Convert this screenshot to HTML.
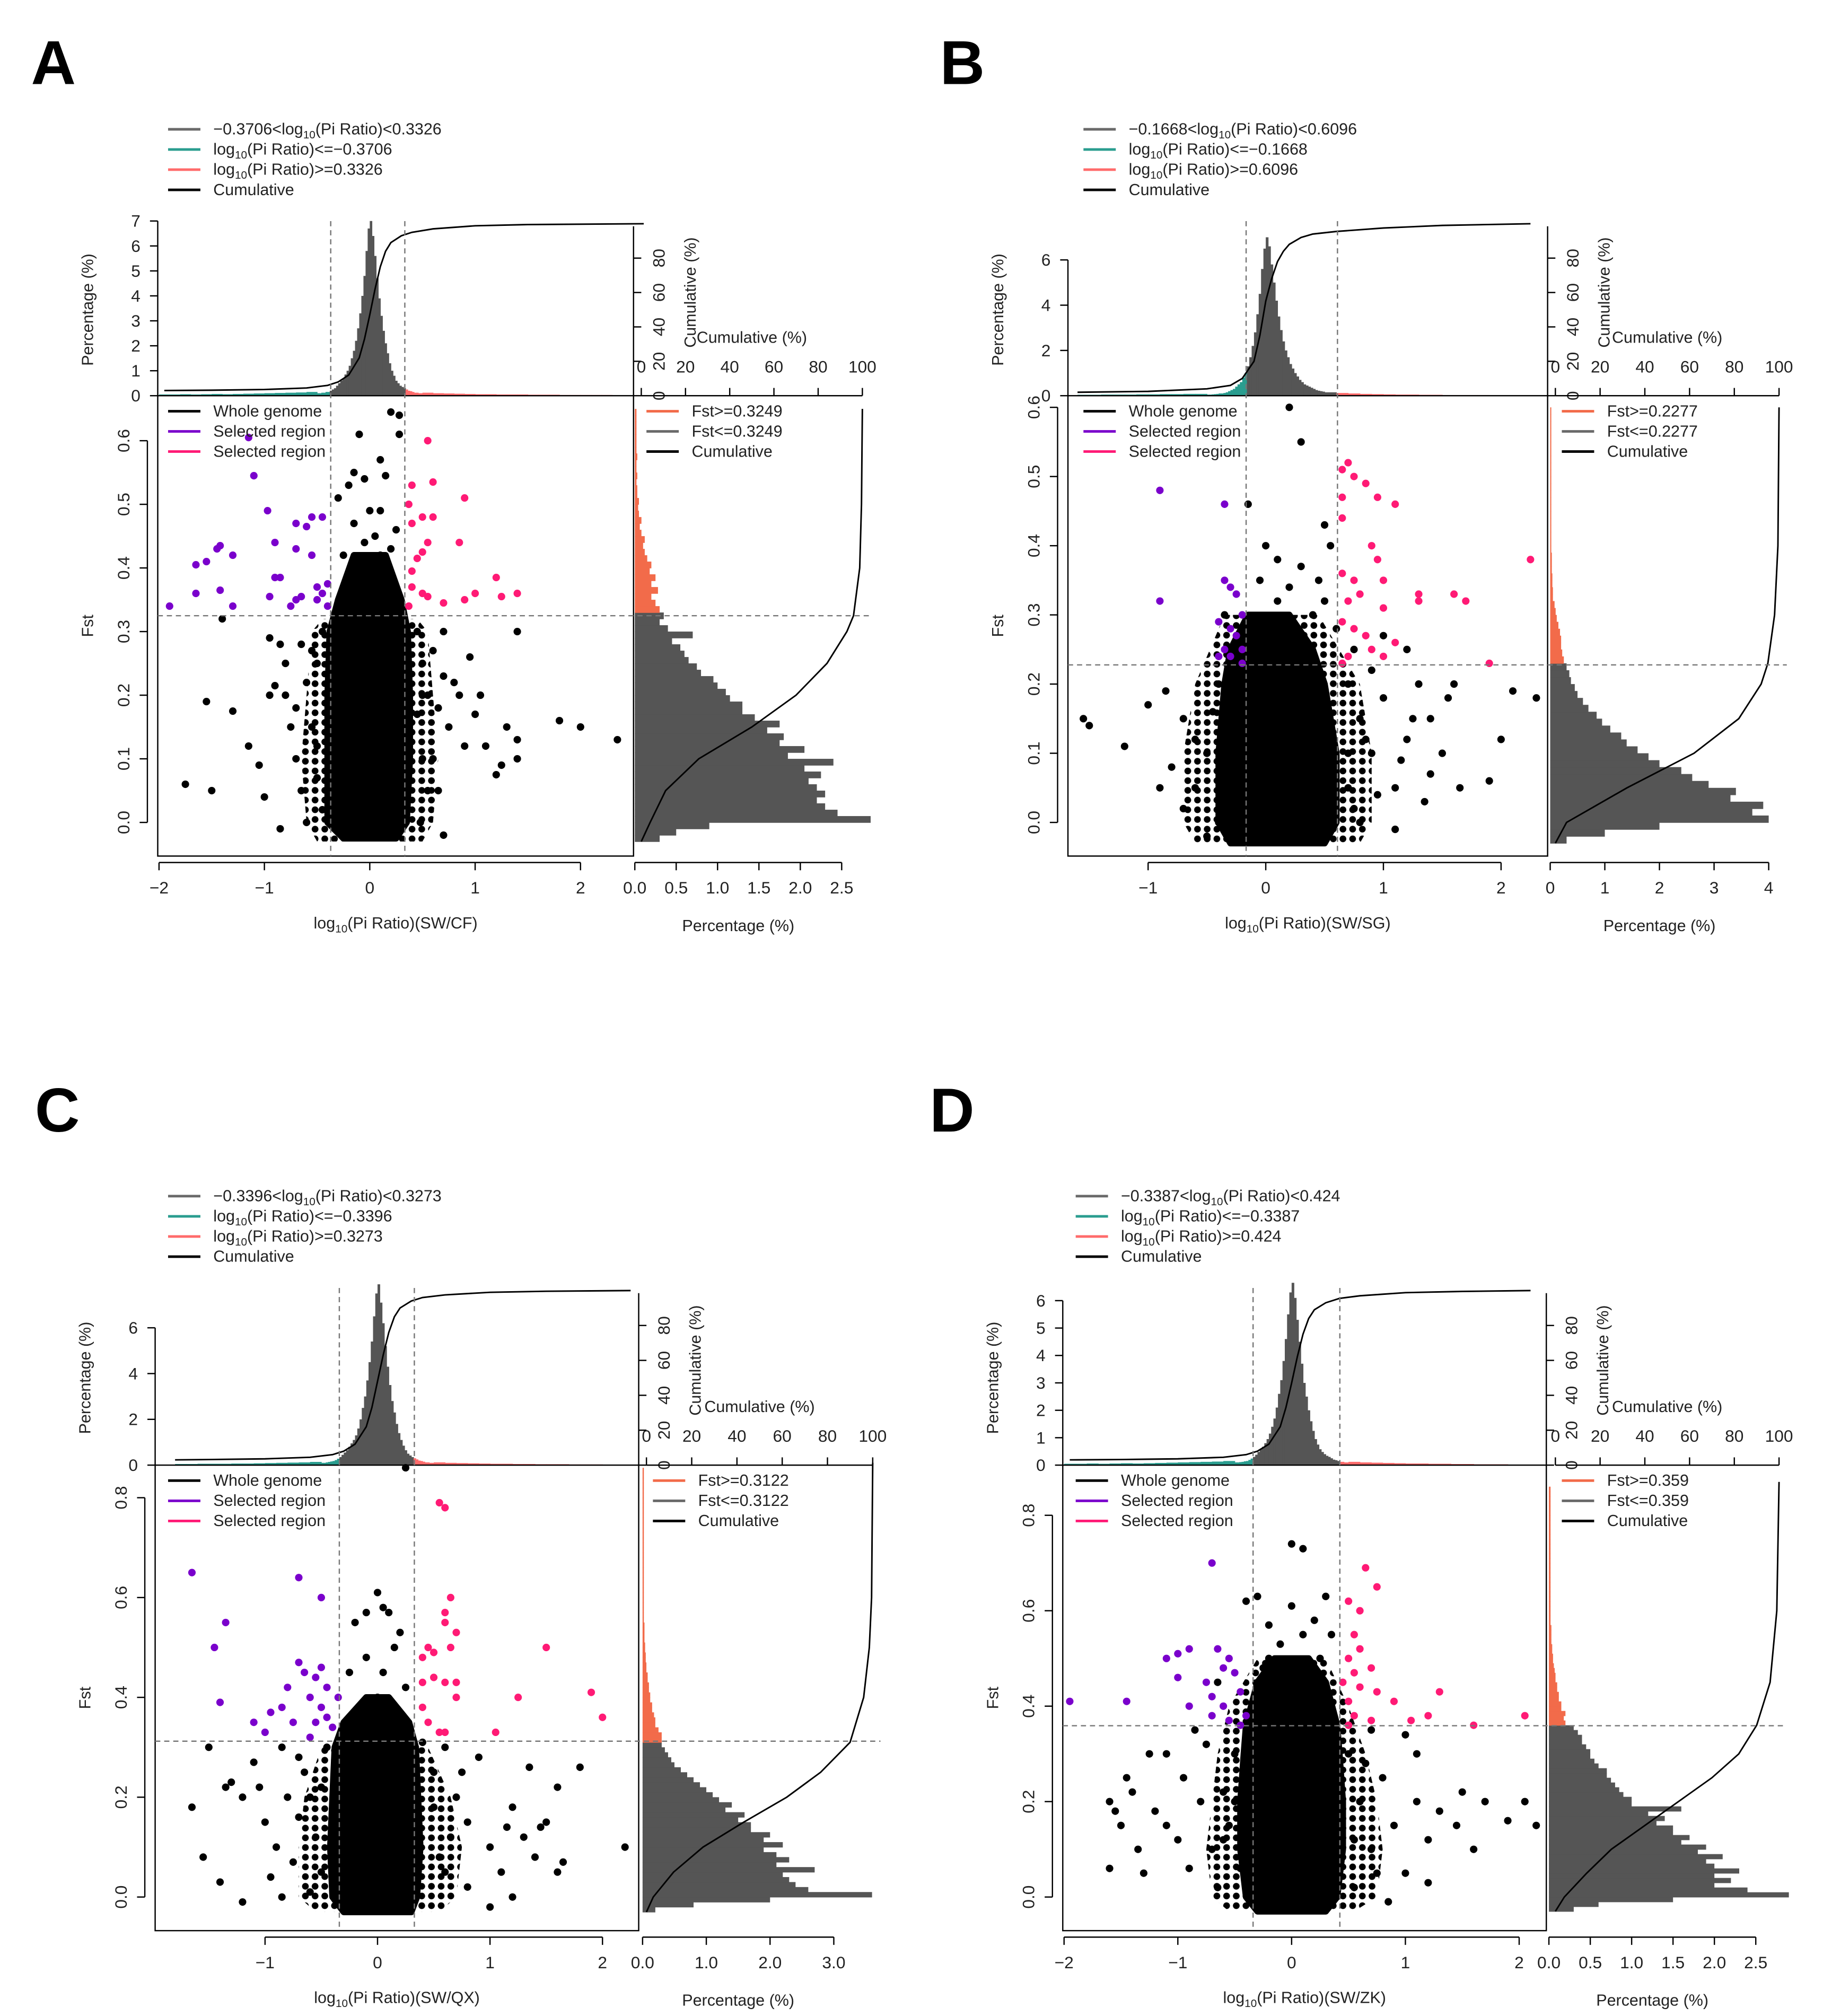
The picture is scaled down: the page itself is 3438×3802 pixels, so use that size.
<!DOCTYPE html>
<html><head><meta charset="utf-8">
<style>
html,body{margin:0;padding:0;background:#fff;}
svg{display:block;font-family:"Liberation Sans",Arial,sans-serif;}
</style></head>
<body>
<svg id="chart" xmlns="http://www.w3.org/2000/svg" width="3438" height="3802" viewBox="0 0 1410 1559" preserveAspectRatio="none">
<defs>
<pattern id="halo" width="7.5" height="7.5" patternUnits="userSpaceOnUse"><circle cx="3.7" cy="3.7" r="2.6" fill="#000"/></pattern>
</defs>
</svg>
<script>
// ===== Data: panel A (SW/CF) =====
const A_thr = [-0.3706, 0.3326, 0.3249];
const A_hist = [0.1,0.1,0.12,0.12,0.15,0.15,0.2,0.25,0.3,0.4, 0.5,0.6,0.7,0.85,1.0,1.2,1.5,1.8,2.2,2.7, 3.3,4.0,4.8,5.8,6.7,7.0,6.4,5.6,4.7,3.9, 3.2,2.6,2.1,1.7,1.3,1.0,0.8,0.6,0.5,0.4, 0.35,0.3,0.25,0.2,0.18,0.15,0.12,0.12,0.1,0.1];
const A_lt = [0.05,0.05,0.06,0.05,0.06,0.07,0.06,0.07,0.08,0.09,0.1,0.11,0.12,0.13,0.15];
const A_rt = [0.12,0.1,0.09,0.08,0.07,0.06,0.06,0.05,0.05,0.05,0.04,0.04,0.04,0.03,0.03,0.03,0.03,0.03,0.02,0.02,0.02];
const A_cumX = [-1.95,-1.5,-1,-0.6,-0.4,-0.3,-0.2,-0.1,-0.05,0,0.05,0.1,0.15,0.2,0.3,0.4,0.6,1,1.5,2.6];
const A_cumY = [3,3.2,3.6,4.5,6,8,12,22,33,47,62,75,84,89,93,95,97,98.8,99.5,100];
const A_rhist = [0.3,0.5,0.9,2.85,2.45,2.3,2.2,2.3,2.2,2.1,2.25,2.05,2.4,1.85,2.05,1.75,1.8,1.6,1.75,1.45,1.3,1.3,1.15,1.1,1.0,0.95,0.8,0.75,0.65,0.6,0.55,0.45,0.7,0.4,0.3,0.35,0.3,0.25,0.2,0.28,0.2,0.25,0.18,0.2,0.15,0.12,0.1,0.12,0.08,0.06,0.08,0.05,0.04,0.05,0.03,0.03,0.02,0.03,0.02,0.02,0.03,0.02,0.02,0.02,0.02,0.02,0.02,0.02];
const A_rcumF = [-0.03,0,0.05,0.1,0.15,0.2,0.25,0.3,0.325,0.4,0.5,0.65];
const A_rcumY = [0,4,11,26,50,70,84,93,96,98.8,99.6,100];
const A_coreF = [-0.025,0,0.1,0.2,0.3,0.35,0.42];
const A_coreL = [-0.25,-0.4,-0.4,-0.4,-0.38,-0.3,-0.15];
const A_coreR = [0.25,0.35,0.38,0.38,0.36,0.3,0.15];
const A_haloF = [-0.03,0,0.1,0.2,0.3,0.32];
const A_haloL = [-0.5,-0.6,-0.65,-0.6,-0.55,-0.45];
const A_haloR = [0.5,0.6,0.65,0.6,0.55,0.45];
const A_black = [[-1.75,0.06],[-1.5,0.05],[-1.55,0.19],[-1.3,0.175],[-1.15,0.12],[-1.05,0.09],[-1.0,0.04],[-0.95,0.2],[-0.9,0.215],[-0.95,0.29],[-0.85,0.28],[-0.8,0.25],[-0.8,0.2],[-0.75,0.15],[-0.7,0.1],[-0.65,0.05],[-0.6,0.0],[-0.6,0.22],[-0.55,0.15],[-0.5,0.07],[-0.55,0.27],[-0.45,0.3],[-0.85,-0.01],[-1.4,0.32],[-0.7,0.18],[-0.65,0.28],[-0.5,0.25],[-0.5,0.12],[-0.45,0.02],
[0.45,0.3],[0.5,0.25],[0.55,0.2],[0.6,0.1],[0.65,0.05],[0.7,-0.02],[0.75,0.15],[0.8,0.22],[0.85,0.2],[0.9,0.12],[1.0,0.17],[1.05,0.2],[1.1,0.12],[1.2,0.075],[1.25,0.09],[1.3,0.15],[1.4,0.13],[1.4,0.1],[1.4,0.3],[0.7,0.3],[0.6,0.27],[0.5,0.1],[0.55,0.05],[0.48,0.0],[0.95,0.26],[1.8,0.16],[2.0,0.15],[2.35,0.13],[0.65,0.18],[0.7,0.23],[0.45,0.17],[0.5,0.2],
[0.2,0.645],[0.28,0.64],[0.28,0.61],[-0.1,0.61],[0.1,0.57],[-0.15,0.55],[-0.05,0.54],[0.15,0.545],[-0.2,0.53],[-0.3,0.51],[0.1,0.49],[0.0,0.49],[0.25,0.46],[-0.15,0.47],[0.05,0.45],[0.2,0.43],[-0.25,0.42],[0.1,0.42],[-0.05,0.44]];
const A_purple = [[-1.9,0.34],[-1.65,0.36],[-1.65,0.405],[-1.55,0.41],[-1.45,0.43],[-1.42,0.435],[-1.3,0.42],[-1.42,0.365],[-1.3,0.34],[-1.15,0.605],[-1.1,0.545],[-0.97,0.49],[-0.9,0.44],[-0.9,0.385],[-0.85,0.385],[-0.95,0.355],[-0.75,0.34],[-0.7,0.35],[-0.65,0.355],[-0.7,0.47],[-0.7,0.43],[-0.55,0.48],[-0.6,0.465],[-0.45,0.48],[-0.55,0.42],[-0.5,0.37],[-0.45,0.36],[-0.4,0.375],[-0.4,0.34],[-0.5,0.35]];
const A_pink = [[0.55,0.6],[0.4,0.53],[0.6,0.535],[0.9,0.51],[0.37,0.5],[0.4,0.47],[0.5,0.48],[0.6,0.48],[0.85,0.44],[0.45,0.415],[0.5,0.425],[0.55,0.44],[0.4,0.395],[0.4,0.37],[0.5,0.36],[0.55,0.355],[0.7,0.345],[0.9,0.35],[1.0,0.36],[1.2,0.385],[1.25,0.355],[1.4,0.36],[0.37,0.34]];

// ===== Data: panel B (SW/SG) =====
const B_thr = [-0.1668, 0.6096, 0.2277];
const B_hist = [0.05,0.05,0.06,0.07,0.08,0.1,0.1,0.12,0.15,0.2, 0.25,0.3,0.4,0.5,0.6,0.8,1.0,1.3,1.7,2.2, 2.8,3.6,4.5,5.6,6.5,7.0,6.6,5.8,5.0,4.2, 3.5,2.9,2.4,2.0,1.7,1.4,1.2,1.0,0.85,0.7, 0.6,0.5,0.45,0.4,0.35,0.3,0.25,0.22,0.2,0.18];
const B_lt = [0.04,0.04,0.05,0.05,0.05,0.06,0.06,0.07,0.07,0.08,0.08];
const B_rt = [0.15,0.12,0.1,0.08,0.07,0.06,0.05,0.05,0.04,0.04,0.03,0.03,0.03,0.03,0.02,0.02,0.02,0.02];
const B_cumX = [-1.6,-1,-0.5,-0.3,-0.2,-0.1,-0.05,0,0.05,0.1,0.15,0.2,0.3,0.4,0.6,1,1.5,2.25];
const B_cumY = [2,2.5,4,6,10,20,35,55,68,78,84,88,92,94,95.5,97.5,99,100];
const B_rhist = [0.3,1.0,2.0,4.0,3.7,3.9,3.3,3.4,2.9,2.6,2.4,2.0,1.8,1.6,1.4,1.3,1.1,0.95,0.85,0.7,0.6,0.5,0.45,0.38,0.35,0.3,0.25,0.22,0.2,0.2,0.18,0.15,0.12,0.1,0.08,0.05,0.05,0.04,0.04,0.03,0.03,0.03,0.02,0.02,0.02,0.02,0.02,0.02,0.02,0.02,0.02,0.02,0.02,0.02,0.02,0.02,0.02,0.02,0.02,0.02,0.02,0.02,0.02];
const B_rcumF = [-0.03,0,0.05,0.1,0.15,0.2,0.23,0.3,0.4,0.6];
const B_rcumY = [0,5,32,62,82,92,95,98,99.5,100];
const B_coreF = [-0.03,0,0.1,0.2,0.25,0.3];
const B_coreL = [-0.3,-0.4,-0.4,-0.35,-0.3,-0.15];
const B_coreR = [0.5,0.6,0.6,0.5,0.4,0.2];
const B_haloF = [-0.03,0,0.1,0.2,0.3];
const B_haloL = [-0.6,-0.7,-0.7,-0.6,-0.35];
const B_haloR = [0.8,0.9,0.9,0.8,0.45];
const B_black = [[0.2,0.6],[0.3,0.55],[-0.15,0.46],[0.5,0.43],[0.55,0.4],[-0.35,0.3],[-1.55,0.15],[-1.5,0.14],[-1.2,0.11],[-1.0,0.17],[-0.85,0.19],[-0.7,0.15],[-0.6,0.05],[-0.5,0.1],[-0.4,0.2],[-0.4,0.0],[-0.5,-0.02],[-0.8,0.08],[-0.9,0.05],[-0.3,0.25],[-0.6,0.12],[-0.45,0.16],[-0.7,0.02],
[0.7,0.2],[0.8,0.15],[0.9,0.1],[1.0,0.18],[1.1,0.05],[1.2,0.12],[1.3,0.2],[1.35,0.03],[1.4,0.15],[1.5,0.1],[1.55,0.18],[1.6,0.2],[1.65,0.05],[1.9,0.06],[2.0,0.12],[2.1,0.19],[2.3,0.18],[1.2,0.25],[1.0,0.27],[0.9,0.22],[0.8,0.0],[1.1,-0.01],[0.7,0.05],[0.75,0.25],[0.6,0.28],[0.5,0.32],[0.45,0.35],[1.25,0.15],[1.4,0.07],[0.85,0.12],[1.15,0.09],[0.7,0.1],[0.75,0.02],[0.95,0.04],
[0.0,0.4],[0.1,0.38],[0.3,0.37],[-0.05,0.35],[0.2,0.34],[0.4,0.3],[0.1,0.32]];
const B_purple = [[-0.9,0.48],[-0.9,0.32],[-0.35,0.46],[-0.35,0.35],[-0.3,0.34],[-0.25,0.33],[-0.2,0.3],[-0.3,0.28],[-0.25,0.27],[-0.4,0.29],[-0.35,0.25],[-0.2,0.25],[-0.3,0.24],[-0.2,0.23],[-0.4,0.24]];
const B_pink = [[0.65,0.51],[0.7,0.52],[0.75,0.5],[0.85,0.49],[0.95,0.47],[1.1,0.46],[0.65,0.47],[0.65,0.44],[0.9,0.4],[0.95,0.38],[1.0,0.35],[0.65,0.36],[0.75,0.35],[0.8,0.33],[0.7,0.32],[1.0,0.31],[1.3,0.33],[1.3,0.32],[1.6,0.33],[1.7,0.32],[2.25,0.38],[1.9,0.23],[0.65,0.29],[0.75,0.28],[0.85,0.27],[0.9,0.25],[0.7,0.24],[1.0,0.24],[0.65,0.23],[1.1,0.26]];

// ===== Data: panel C (SW/QX) =====
const C_thr = [-0.3396, 0.3273, 0.3122];
const C_hist = [0.1,0.1,0.12,0.14,0.16,0.18,0.22,0.28,0.35,0.45, 0.55,0.65,0.8,0.95,1.1,1.3,1.6,2.0,2.5,3.0, 3.7,4.5,5.4,6.5,7.5,7.9,7.1,6.2,5.2,4.3, 3.5,2.8,2.3,1.8,1.4,1.1,0.85,0.65,0.5,0.42, 0.35,0.3,0.25,0.2,0.18,0.15,0.12,0.12,0.1,0.1];
const C_lt = [0.05,0.05,0.06,0.06,0.06,0.07,0.07,0.08,0.09,0.1,0.11,0.12,0.14];
const C_rt = [0.12,0.1,0.09,0.08,0.07,0.06,0.06,0.05,0.05,0.04,0.04,0.04,0.03,0.03,0.03,0.02,0.02,0.02];
const C_cumX = [-1.8,-1.5,-1,-0.6,-0.4,-0.3,-0.2,-0.1,-0.05,0,0.05,0.1,0.15,0.2,0.3,0.4,0.6,1,1.5,2.25];
const C_cumY = [3,3.2,3.6,4.5,6,8,12,22,33,48,63,76,85,90,94,96,97.5,99,99.6,100];
const C_rhist = [0.2,0.8,2.0,3.6,2.6,2.4,2.3,2.2,2.7,2.1,2.3,2.1,1.9,2.2,1.9,2.0,1.7,1.7,1.5,1.6,1.3,1.4,1.2,1.1,1.0,0.9,0.8,0.7,0.6,0.5,0.45,0.4,0.35,0.3,0.3,0.3,0.25,0.2,0.2,0.18,0.15,0.15,0.12,0.12,0.1,0.1,0.08,0.08,0.06,0.06,0.05,0.05,0.04,0.04,0.03,0.03,0.03,0.03,0.02,0.02,0.02,0.02,0.02,0.02,0.02,0.02,0.02,0.02,0.02,0.02,0.02,0.02,0.02,0.02,0.02,0.02,0.02,0.02,0.02,0.02,0.02,0.02,0.02,0.02,0.02,0.02,0.02,0.02,0.02];
const C_rcumF = [-0.03,0,0.05,0.1,0.15,0.2,0.25,0.31,0.4,0.5,0.6,0.87];
const C_rcumY = [0,3,12,25,43,62,77,90,96,98.5,99.5,100];
const C_coreF = [-0.03,0,0.1,0.2,0.3,0.35,0.4];
const C_coreL = [-0.3,-0.4,-0.42,-0.4,-0.38,-0.3,-0.1];
const C_coreR = [0.3,0.35,0.38,0.36,0.34,0.28,0.1];
const C_haloF = [-0.03,0,0.1,0.2,0.3];
const C_haloL = [-0.55,-0.7,-0.7,-0.65,-0.5];
const C_haloR = [0.55,0.7,0.75,0.65,0.45];
const C_black = [[-1.65,0.18],[-1.5,0.3],[-1.55,0.08],[-1.4,0.03],[-1.35,0.22],[-1.3,0.23],[-1.2,0.2],[-1.1,0.27],[-1.0,0.15],[-0.95,0.04],[-0.9,0.1],[-0.85,0.3],[-0.8,0.2],[-0.75,0.07],[-0.7,0.16],[-0.65,0.25],[-0.6,0.01],[-0.55,0.12],[-0.5,0.22],[-0.45,0.3],[-1.2,-0.01],[-0.85,0.0],[-0.6,0.2],[-0.5,0.05],[-0.7,0.28],[-1.05,0.22],
[0.4,0.31],[0.5,0.25],[0.6,0.3],[0.7,0.2],[0.8,0.15],[0.9,0.28],[1.0,0.1],[1.1,0.05],[1.2,0.18],[1.3,0.12],[1.4,0.08],[1.5,0.15],[1.6,0.22],[1.8,0.26],[1.6,0.05],[2.2,0.1],[1.65,0.07],[1.2,0.0],[1.0,-0.02],[0.8,0.02],[0.55,0.08],[1.15,0.14],[0.65,0.12],[1.35,0.26],[1.45,0.14],[0.5,0.18],[0.6,0.05],[0.75,0.25],
[0.25,0.86],[0.0,0.61],[0.05,0.58],[-0.1,0.57],[0.1,0.57],[-0.2,0.55],[0.2,0.53],[0.15,0.5],[-0.1,0.48],[0.05,0.45],[-0.25,0.45],[0.25,0.42],[0.0,0.4],[-0.15,0.38],[0.2,0.36]];
const C_purple = [[-1.65,0.65],[-1.35,0.55],[-1.45,0.5],[-1.4,0.39],[-0.7,0.64],[-0.5,0.6],[-1.1,0.35],[-1.0,0.33],[-0.95,0.37],[-0.85,0.38],[-0.8,0.42],[-0.75,0.35],[-0.7,0.47],[-0.65,0.45],[-0.6,0.4],[-0.55,0.44],[-0.5,0.46],[-0.45,0.42],[-0.5,0.38],[-0.45,0.36],[-0.4,0.34],[-0.55,0.35],[-0.6,0.32],[-0.35,0.4]];
const C_pink = [[0.55,0.79],[0.6,0.78],[0.65,0.6],[0.6,0.57],[0.6,0.55],[0.7,0.53],[0.65,0.5],[0.5,0.49],[0.45,0.5],[0.4,0.48],[1.5,0.5],[0.4,0.43],[0.5,0.44],[0.6,0.43],[0.7,0.43],[0.7,0.4],[1.25,0.4],[1.9,0.41],[2.0,0.36],[0.4,0.38],[0.55,0.33],[0.6,0.33],[1.05,0.33],[0.45,0.35]];

// ===== Data: panel D (SW/ZK) =====
const D_thr = [-0.3387, 0.424, 0.359];
const D_hist = [0.1,0.1,0.11,0.12,0.14,0.15,0.19,0.24,0.3,0.38, 0.48,0.57,0.67,0.8,0.95,1.15,1.4,1.7,2.1,2.6, 3.1,3.8,4.6,5.5,6.3,6.65,6.1,5.3,4.5,3.7, 3.0,2.5,2.0,1.6,1.25,0.95,0.75,0.58,0.48,0.4, 0.34,0.3,0.25,0.2,0.18,0.15,0.12,0.12,0.1,0.1];
const D_lt = [0.05,0.05,0.06,0.05,0.06,0.07,0.06,0.07,0.08,0.09,0.1,0.11,0.12,0.13,0.15];
const D_rt = [0.12,0.1,0.09,0.08,0.07,0.06,0.06,0.05,0.05,0.04,0.04,0.03,0.03,0.03,0.02,0.02];
const D_cumX = [-1.95,-1.5,-1,-0.6,-0.4,-0.3,-0.2,-0.1,-0.05,0,0.05,0.1,0.15,0.2,0.3,0.42,0.6,1,1.5,2.1];
const D_cumY = [3,3.2,3.6,4.5,6,8,12,22,33,47,62,75,84,89,93,95.5,97,98.8,99.5,100];
const D_rhist = [0.3,0.6,1.5,2.9,2.4,2.0,2.2,2.0,2.3,2.0,1.9,2.1,1.8,1.9,1.6,1.7,1.5,1.5,1.3,1.4,1.2,1.6,1.0,1.0,0.9,0.85,0.8,0.75,0.7,0.7,0.6,0.55,0.5,0.5,0.45,0.4,0.4,0.35,0.3,0.2,0.18,0.2,0.15,0.15,0.12,0.12,0.1,0.1,0.08,0.08,0.07,0.06,0.05,0.05,0.04,0.04,0.03,0.03,0.03,0.03,0.02,0.02,0.02,0.02,0.02,0.02,0.02,0.02,0.02,0.02,0.02,0.02,0.02,0.02,0.02,0.02,0.02,0.02,0.02,0.02,0.02,0.02,0.02,0.02,0.02,0.02,0.02,0.02,0.02];
const D_rcumF = [-0.03,0,0.05,0.1,0.15,0.2,0.25,0.3,0.36,0.45,0.6,0.87];
const D_rcumY = [0,4,14,25,40,55,70,82,90,96,99,100];
const D_coreF = [-0.03,0,0.1,0.2,0.3,0.36,0.45,0.5];
const D_coreL = [-0.3,-0.4,-0.45,-0.45,-0.42,-0.4,-0.3,-0.15];
const D_coreR = [0.3,0.4,0.45,0.45,0.42,0.4,0.3,0.15];
const D_haloF = [-0.03,0,0.1,0.2,0.3,0.4,0.5];
const D_haloL = [-0.55,-0.7,-0.75,-0.7,-0.65,-0.55,-0.3];
const D_haloR = [0.55,0.75,0.8,0.75,0.65,0.5,0.3];
const D_black = [[-1.6,0.2],[-1.55,0.18],[-1.5,0.15],[-1.45,0.25],[-1.4,0.22],[-1.35,0.1],[-1.3,0.05],[-1.2,0.18],[-1.1,0.3],[-1.0,0.12],[-0.95,0.25],[-0.9,0.06],[-0.8,0.2],[-0.75,0.32],[-0.7,0.1],[-0.65,0.02],[-0.6,0.22],[-0.55,0.15],[-0.5,0.3],[-0.45,0.06],[-1.6,0.06],[-1.25,0.3],[-0.85,0.35],[-0.65,0.45],[-0.6,0.12],[-0.5,0.2],[-1.1,0.15],
[0.5,0.3],[0.6,0.2],[0.7,0.1],[0.8,0.25],[0.9,0.15],[1.0,0.05],[1.1,0.2],[1.2,0.12],[1.1,0.3],[1.3,0.18],[1.45,0.15],[1.5,0.22],[1.7,0.2],[1.6,0.1],[1.9,0.16],[2.05,0.2],[2.15,0.15],[1.0,0.34],[0.7,0.35],[0.55,0.02],[0.85,-0.01],[1.2,0.03],[0.55,0.12],[0.65,0.28],[0.75,0.05],
[0.0,0.74],[0.1,0.73],[-0.3,0.63],[-0.4,0.62],[0.0,0.61],[0.3,0.63],[-0.2,0.57],[0.2,0.58],[0.1,0.55],[-0.1,0.53],[0.25,0.5],[-0.25,0.48],[0.15,0.45],[-0.05,0.46],[0.3,0.42],[-0.3,0.4],[0.1,0.4],[-0.2,0.5],[0.35,0.55]];
const D_purple = [[-1.95,0.41],[-1.45,0.41],[-1.1,0.5],[-1.0,0.51],[-0.9,0.52],[-0.7,0.7],[-0.65,0.52],[-0.55,0.5],[-1.0,0.46],[-0.9,0.4],[-0.75,0.45],[-0.7,0.42],[-0.6,0.48],[-0.5,0.47],[-0.6,0.4],[-0.45,0.43],[-0.4,0.38],[-0.55,0.37],[-0.45,0.36],[-0.7,0.38]];
const D_pink = [[0.65,0.69],[0.75,0.65],[0.5,0.62],[0.6,0.6],[0.55,0.55],[0.6,0.52],[0.5,0.5],[0.55,0.47],[0.7,0.48],[0.45,0.45],[0.6,0.44],[0.75,0.43],[0.5,0.41],[0.9,0.41],[1.3,0.43],[0.55,0.38],[0.7,0.37],[1.05,0.37],[1.2,0.38],[1.6,0.36],[2.05,0.38],[0.5,0.36]];

// Tick labels
const A_xticks=[-2,-1,0,1,2], A_fticks=[0,0.1,0.2,0.3,0.4,0.5,0.6], A_tticks=[0,1,2,3,4,5,6,7], A_rticks=[0,0.5,1,1.5,2,2.5];
const B_xticks=[-1,0,1,2], B_fticks=[0,0.1,0.2,0.3,0.4,0.5,0.6], B_tticks=[0,2,4,6], B_rticks=[0,1,2,3,4];
const C_xticks=[-1,0,1,2], C_fticks=[0,0.2,0.4,0.6,0.8], C_tticks=[0,2,4,6], C_rticks=[0,1,2,3];
const D_xticks=[-2,-1,0,1,2], D_fticks=[0,0.2,0.4,0.6,0.8], D_tticks=[0,1,2,3,4,5,6], D_rticks=[0,0.5,1,1.5,2,2.5];
const cumTicks=[0,20,40,60,80,100];

const NS="http://www.w3.org/2000/svg";
const svg=document.getElementById('chart');
function mk(tag, attrs, name, parent){
  const e=document.createElementNS(NS,tag);
  for(const k in attrs) e.setAttribute(k, attrs[k]);
  
  
  (parent||svg).appendChild(e);
  return e;
}
function txt(x,y,s,name,parent,extra){
  const a=Object.assign({x:x,y:y,'font-size':12.5,fill:'#222'},extra||{});
  const t=mk('text',a,name,parent); t.textContent=s; return t;
}
function esc(s){ return s.replace(/&/g,'&amp;').replace(/</g,'&lt;').replace(/>/g,'&gt;'); }
function logTxt(x,y,pre,post,name,parent,extra){
  const t=mk('text',Object.assign({x:x,y:y,'font-size':12.5,fill:'#222'},extra||{}),name,parent);
  t.innerHTML=esc(pre)+'log<tspan font-size="8.5" dy="3">10</tspan><tspan dy="-3">'+esc(post)+'</tspan>';
  return t;
}
function fmt(v,d){ return d==null? String(v): v.toFixed(d); }
function bandPts(F,L,R,xs,fy){
  return F.map((f,i)=>xs(L[i])+','+fy(f)).concat(F.slice().reverse().map((f,j)=>{const i=F.length-1-j;return xs(R[i])+','+fy(f);})).join(' ');
}

function draw(c, d){
  const g=mk('g',{},'panel-'+c.letter.toLowerCase());
  const xs=v=>c.x0+c.xu*v, fy=f=>c.y0-c.fu*f, ty=p=>c.ty0-c.tu*p, rx=p=>c.rx0+c.ru*p;
  const cy=v=>c.ty0-(c.ty0-c.cumTop)*v/100, rcx=v=>c.cx0+(c.cx1-c.cx0)*v/100;
  const [lo,hi,fT]=d.thr;
  txt(c.lx,c.ly,c.letter,'panel-letter',g,{'font-size':48,'font-weight':'bold',fill:'#000'});
  const tl=[['#6a6a6a','range'],['#2a9d8f','low'],['#ff6b6b','high'],['#000','cumulative']];
  tl.forEach((L,i)=>{
    const y=c.legTop+i*15.6;
    mk('line',{x1:c.legX,x2:c.legX+25,y1:y-4,y2:y-4,stroke:L[0],'stroke-width':2},'legend-line-'+L[1],g);
  });
  logTxt(c.legX+35,c.legTop,'−'+Math.abs(lo)+'<','(Pi Ratio)<'+hi,'legend-label-range',g);
  logTxt(c.legX+35,c.legTop+15.6,'','(Pi Ratio)<=−'+Math.abs(lo),'legend-label-low',g);
  logTxt(c.legX+35,c.legTop+31.2,'','(Pi Ratio)>='+hi,'legend-label-high',g);
  txt(c.legX+35,c.legTop+46.8,'Cumulative','legend-label-cumulative',g);

  const bw=0.02, hg=mk('g',{},'top-histogram',g);
  const col=x=> x<lo?'#2a9d8f':(x>hi?'#ff6b6b':'#555');
  d.hist.forEach((h,i)=>{ const x=-0.5+bw*i;
    mk('rect',{x:xs(x),y:ty(h),width:xs(bw)-xs(0)+0.3,height:ty(0)-ty(h),fill:col(x+bw/2)},'top-hist-bar',hg);});
  const lts=-0.5-0.1*d.lt.length;
  d.lt.forEach((h,i)=>{ const x=lts+0.1*i;
    mk('rect',{x:xs(x),y:ty(h),width:xs(0.1)-xs(0)+0.3,height:ty(0)-ty(h),fill:col(x+0.05)},'top-hist-tail-bar',hg);});
  d.rt.forEach((h,i)=>{ const x=0.5+0.1*i;
    mk('rect',{x:xs(x),y:ty(h),width:xs(0.1)-xs(0)+0.3,height:ty(0)-ty(h),fill:col(x+0.05)},'top-hist-tail-bar',hg);});
  mk('polyline',{points:d.cumX.map((x,i)=>xs(x)+','+cy(d.cumY[i])).join(' '),fill:'none',stroke:'#000','stroke-width':1.2},'top-cumulative-line',g);
  const tmax=c.tticks[c.tticks.length-1];
  mk('line',{x1:c.l,x2:c.l,y1:ty(0),y2:ty(tmax),stroke:'#000'},'top-y-axis',g);
  c.tticks.forEach(t=>{ mk('line',{x1:c.l-6,x2:c.l,y1:ty(t),y2:ty(t),stroke:'#000'},'top-y-tick',g);
    txt(c.l-17,ty(t)+4.5,String(t),'top-y-tick-label',g,{'text-anchor':'middle','font-size':13});});
  txt(0,0,'Percentage (%)','top-y-axis-title',g,{'text-anchor':'middle',transform:`translate(${c.l-50},${(ty(0)+c.cumTop)/2}) rotate(-90)`});
  mk('line',{x1:c.r,x2:c.r,y1:cy(0),y2:c.cumTop+2,stroke:'#000'},'cumulative-y-axis',g);
  [0,20,40,60,80].forEach(t=>{ mk('line',{x1:c.r,x2:c.r+6,y1:cy(t),y2:cy(t),stroke:'#000'},'cumulative-y-tick',g);
    txt(0,0,String(t),'cumulative-y-tick-label',g,{'text-anchor':'middle','font-size':13,transform:`translate(${c.r+24},${cy(t)}) rotate(-90)`});});
  txt(0,0,'Cumulative (%)','cumulative-y-axis-title',g,{'text-anchor':'middle',transform:`translate(${c.r+48},${cy(60)}) rotate(-90)`});
  mk('line',{x1:c.cx0,x2:c.cx1,y1:c.ty0,y2:c.ty0,stroke:'#000'},'cumulative-x-axis',g);
  cumTicks.forEach(t=>{ mk('line',{x1:rcx(t),x2:rcx(t),y1:c.ty0,y2:c.ty0-6,stroke:'#000'},'cumulative-x-tick',g);
    txt(rcx(t),c.ty0-18,String(t),'cumulative-x-tick-label',g,{'text-anchor':'middle','font-size':13});});
  txt((c.cx0+c.cx1)/2,c.ty0-41,'Cumulative (%)','cumulative-x-axis-title',g,{'text-anchor':'middle'});

  const sg=mk('g',{},'scatter-plot',g);
  mk('polygon',{points:bandPts(d.haloF,d.haloL,d.haloR,xs,fy),fill:'url(#halo)',stroke:'none'},'halo-points',sg);
  mk('polygon',{points:bandPts(d.coreF,d.coreL,d.coreR,xs,fy),fill:'#000',stroke:'#000','stroke-width':5,'stroke-linejoin':'round'},'dense-core-points',sg);
  d.black.forEach(p=>{ mk('circle',{cx:xs(p[0]),cy:fy(p[1]),r:2.9,fill:'#000'},'point-whole-genome',sg);});
  d.purple.forEach(p=>{ mk('circle',{cx:xs(p[0]),cy:fy(p[1]),r:2.9,fill:'#7a00cc'},'point-selected-low',sg);});
  d.pink.forEach(p=>{ mk('circle',{cx:xs(p[0]),cy:fy(p[1]),r:2.9,fill:'#ff1a75'},'point-selected-high',sg);});
  mk('rect',{x:c.l,y:c.t,width:c.r-c.l,height:c.b-c.t,fill:'none',stroke:'#000'},'scatter-frame',g);
  const il=[['#000','Whole genome','whole-genome'],['#7a00cc','Selected region','selected-low'],['#ff1a75','Selected region','selected-high']];
  il.forEach((L,i)=>{ const y=c.t+16+i*15.6;
    mk('line',{x1:c.legX,x2:c.legX+25,y1:y-4,y2:y-4,stroke:L[0],'stroke-width':2},'legend-line-'+L[2],g);
    txt(c.legX+35,y,L[1],'legend-label-'+L[2],g);});
  const ax=c.b+5;
  mk('line',{x1:xs(c.xticks[0]),x2:xs(c.xticks[c.xticks.length-1]),y1:ax,y2:ax,stroke:'#000'},'x-axis',g);
  c.xticks.forEach(t=>{ mk('line',{x1:xs(t),x2:xs(t),y1:ax,y2:ax+6,stroke:'#000'},'x-tick',g);
    txt(xs(t),ax+24,t<0?'−'+Math.abs(t):String(t),'x-tick-label',g,{'text-anchor':'middle','font-size':13});});
  logTxt((c.l+c.r)/2,c.b+56,'','(Pi Ratio)(SW/'+c.xlab+')','x-axis-title',g,{'text-anchor':'middle'});
  const fmax=c.fticks[c.fticks.length-1];
  mk('line',{x1:c.l-8,x2:c.l-8,y1:fy(0),y2:fy(fmax),stroke:'#000'},'y-axis',g);
  c.fticks.forEach(t=>{ mk('line',{x1:c.l-14,x2:c.l-8,y1:fy(t),y2:fy(t),stroke:'#000'},'y-tick',g);
    txt(0,0,t.toFixed(1),'y-tick-label',g,{'text-anchor':'middle','font-size':13,transform:`translate(${c.l-22},${fy(t)}) rotate(-90)`});});
  txt(0,0,'Fst','y-axis-title',g,{'text-anchor':'middle',transform:`translate(${c.l-50},${(c.t+c.b)/2}) rotate(-90)`});

  const rg=mk('g',{},'right-histogram',g);
  d.rhist.forEach((v,i)=>{ const f=-0.03+0.01*i;
    mk('rect',{x:rx(0),y:fy(f+0.01),width:rx(v)-rx(0),height:fy(f)-fy(f+0.01)+0.3,fill:(f>=fT-0.004)?'#f26b4a':'#555'},'right-hist-bar',rg);});
  mk('polyline',{points:d.rcumF.map((f,i)=>rcx(d.rcumY[i])+','+fy(f)).join(' '),fill:'none',stroke:'#000','stroke-width':1.2},'right-cumulative-line',g);
  const rmax=c.rticks[c.rticks.length-1];
  mk('line',{x1:rx(0),x2:rx(rmax),y1:ax,y2:ax,stroke:'#000'},'right-x-axis',g);
  c.rticks.forEach(t=>{ mk('line',{x1:rx(t),x2:rx(t),y1:ax,y2:ax+6,stroke:'#000'},'right-x-tick',g);
    txt(rx(t),ax+24,fmt(t,c.rdec),'right-x-tick-label',g,{'text-anchor':'middle','font-size':13});});
  txt((rx(0)+rx(rmax))/2,c.b+58,'Percentage (%)','right-x-axis-title',g,{'text-anchor':'middle'});
  const rl=[['#f26b4a','Fst>='+fT,'fst-high'],['#6a6a6a','Fst<='+fT,'fst-low'],['#000','Cumulative','cumulative']];
  rl.forEach((L,i)=>{ const y=c.t+16+i*15.6;
    mk('line',{x1:c.rlegX,x2:c.rlegX+25,y1:y-4,y2:y-4,stroke:L[0],'stroke-width':2},'right-legend-line-'+L[2],g);
    txt(c.rlegX+35,y,L[1],'right-legend-label-'+L[2],g);});

  [lo,hi].forEach(v=>{ mk('line',{x1:xs(v),x2:xs(v),y1:c.cumTop-2,y2:c.b,stroke:'#777','stroke-dasharray':'4,3'},'threshold-line-pi',g);});
  mk('line',{x1:c.l,x2:c.cx1+6,y1:fy(fT),y2:fy(fT),stroke:'#777','stroke-dasharray':'4,3'},'threshold-line-fst',g);
}

const cfgA={letter:'A',lx:24,ly:65,l:122,r:490,t:306,b:662,x0:286,xu:81.5,y0:636,fu:492,ty0:306,tu:19.3,cumTop:173,rx0:491,ru:64,cx0:496,cx1:667,xticks:A_xticks,fticks:A_fticks,tticks:A_tticks,rticks:A_rticks,rdec:1,xlab:'CF',legX:130,legTop:104,rlegX:500};
const cfgB={letter:'B',lx:727,ly:65,l:826,r:1197,t:306,b:662,x0:979,xu:91,y0:636,fu:535,ty0:306,tu:17.5,cumTop:173,rx0:1199,ru:42.25,cx0:1203,cx1:1376,xticks:B_xticks,fticks:B_fticks,tticks:B_tticks,rticks:B_rticks,rdec:0,xlab:'SG',legX:838,legTop:104,rlegX:1208};
const cfgC={letter:'C',lx:27,ly:875,l:120,r:494,t:1133,b:1493,x0:292,xu:87,y0:1467,fu:386,ty0:1133,tu:17.7,cumTop:998,rx0:497,ru:49.3,cx0:500,cx1:675,xticks:C_xticks,fticks:C_fticks,tticks:C_tticks,rticks:C_rticks,rdec:1,xlab:'QX',legX:130,legTop:929,rlegX:505};
const cfgD={letter:'D',lx:719,ly:875,l:822,r:1196,t:1133,b:1493,x0:999,xu:88,y0:1467,fu:369,ty0:1133,tu:21.2,cumTop:998,rx0:1198,ru:64,cx0:1203,cx1:1376,xticks:D_xticks,fticks:D_fticks,tticks:D_tticks,rticks:D_rticks,rdec:1,xlab:'ZK',legX:832,legTop:929,rlegX:1208};

draw(cfgA,{thr:A_thr,hist:A_hist,lt:A_lt,rt:A_rt,cumX:A_cumX,cumY:A_cumY,rhist:A_rhist,rcumF:A_rcumF,rcumY:A_rcumY,coreF:A_coreF,coreL:A_coreL,coreR:A_coreR,haloF:A_haloF,haloL:A_haloL,haloR:A_haloR,black:A_black,purple:A_purple,pink:A_pink});
draw(cfgB,{thr:B_thr,hist:B_hist,lt:B_lt,rt:B_rt,cumX:B_cumX,cumY:B_cumY,rhist:B_rhist,rcumF:B_rcumF,rcumY:B_rcumY,coreF:B_coreF,coreL:B_coreL,coreR:B_coreR,haloF:B_haloF,haloL:B_haloL,haloR:B_haloR,black:B_black,purple:B_purple,pink:B_pink});
draw(cfgC,{thr:C_thr,hist:C_hist,lt:C_lt,rt:C_rt,cumX:C_cumX,cumY:C_cumY,rhist:C_rhist,rcumF:C_rcumF,rcumY:C_rcumY,coreF:C_coreF,coreL:C_coreL,coreR:C_coreR,haloF:C_haloF,haloL:C_haloL,haloR:C_haloR,black:C_black,purple:C_purple,pink:C_pink});
draw(cfgD,{thr:D_thr,hist:D_hist,lt:D_lt,rt:D_rt,cumX:D_cumX,cumY:D_cumY,rhist:D_rhist,rcumF:D_rcumF,rcumY:D_rcumY,coreF:D_coreF,coreL:D_coreL,coreR:D_coreR,haloF:D_haloF,haloL:D_haloL,haloR:D_haloR,black:D_black,purple:D_purple,pink:D_pink});
</script>
</body></html>
